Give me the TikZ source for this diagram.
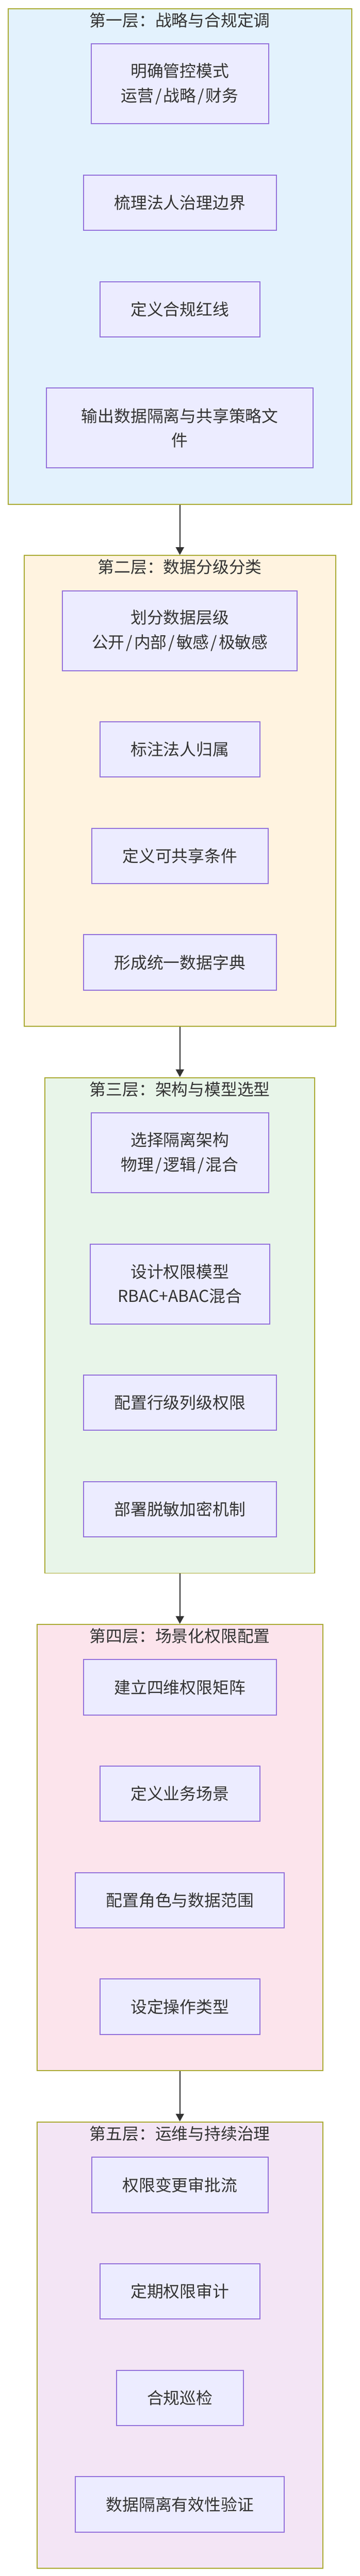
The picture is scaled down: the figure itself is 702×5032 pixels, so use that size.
\documentclass[tikz,border=0pt]{standalone}
\usepackage{fontspec}
\setmainfont{Noto Sans CJK SC}
\usetikzlibrary{arrows.meta}
\definecolor{nodefill}{HTML}{ECECFF}
\definecolor{nodeline}{HTML}{9370DB}
\definecolor{clusterline}{HTML}{AAAA33}
\definecolor{txt}{HTML}{333333}
\definecolor{fillA}{HTML}{E3F2FD}
\definecolor{fillB}{HTML}{FFF3E0}
\definecolor{fillC}{HTML}{E8F5E9}
\definecolor{fillD}{HTML}{FCE4EC}
\definecolor{fillE}{HTML}{F3E5F5}
\newcommand{\slsh}{\hspace{3pt}/\hspace{3pt}}
\tikzset{
  stepbox/.style={draw=nodeline, fill=nodefill, line width=2pt, rectangle, align=center, inner sep=0pt, text=txt, font=\fontsize{32}{48}\selectfont, minimum height=108pt},
  twoline/.style={minimum height=156pt},
  clusterbox/.style={draw=clusterline, line width=2pt, rectangle, inner sep=0pt, anchor=north},
  titletext/.style={text=txt, font=\fontsize{32}{48}\selectfont, inner sep=0pt},
  arr/.style={draw=txt, line width=2pt, -{Triangle[length=15pt,width=16pt]}},
}
\begin{document}
\begin{tikzpicture}[x=1pt,y=-1pt]
\useasboundingbox (0,0) rectangle (702,5032);
% clusters
\node[clusterbox, fill=fillA, minimum width=670pt, minimum height=968pt] (c1) at (351,16) {};
\node[clusterbox, fill=fillB, minimum width=608pt, minimum height=920pt] (c2) at (351,1084) {};
\node[clusterbox, fill=fillC, minimum width=526pt, minimum height=968pt] (c3) at (351,2104) {};
\node[clusterbox, fill=fillD, minimum width=558pt, minimum height=872pt] (c4) at (351,3172) {};
\node[clusterbox, fill=fillE, minimum width=558pt, minimum height=872pt] (c5) at (351,4144) {};
% titles
\node[titletext] (t1) at (351,40) {第一层：战略与合规定调};
\node[titletext] (t2) at (351,1108) {第二层：数据分级分类};
\node[titletext] (t3) at (351,2128) {第三层：架构与模型选型};
\node[titletext] (t4) at (351,3196) {第四层：场景化权限配置};
\node[titletext] (t5) at (351,4168) {第五层：运维与持续治理};
% layer 1
\node[stepbox, twoline, minimum width=346pt] (n1) at (351,164) {明确管控模式\\运营\slsh 战略\slsh 财务};
\node[stepbox, minimum width=376pt] (n2) at (351,396) {梳理法人治理边界};
\node[stepbox, minimum width=312pt] (n3) at (351,604) {定义合规红线};
\node[stepbox, twoline, minimum width=520pt] (n4) at (351,836) {输出数据隔离与共享策略文\\件};
% layer 2
\node[stepbox, twoline, minimum width=458pt] (n5) at (351,1232) {划分数据层级\\公开\slsh 内部\slsh 敏感\slsh 极敏感};
\node[stepbox, minimum width=312pt] (n6) at (351,1464) {标注法人归属};
\node[stepbox, minimum width=344pt] (n7) at (351,1672) {定义可共享条件};
\node[stepbox, minimum width=376pt] (n8) at (351,1880) {形成统一数据字典};
% layer 3
\node[stepbox, twoline, minimum width=346pt] (n9) at (351,2252) {选择隔离架构\\物理\slsh 逻辑\slsh 混合};
\node[stepbox, twoline, minimum width=350pt] (n10) at (351,2508) {设计权限模型\\RBAC+ABAC混合};
\node[stepbox, minimum width=376pt] (n11) at (351,2740) {配置行级列级权限};
\node[stepbox, minimum width=376pt] (n12) at (351,2948) {部署脱敏加密机制};
% layer 4
\node[stepbox, minimum width=376pt] (n13) at (351,3296) {建立四维权限矩阵};
\node[stepbox, minimum width=312pt] (n14) at (351,3504) {定义业务场景};
\node[stepbox, minimum width=408pt] (n15) at (351,3712) {配置角色与数据范围};
\node[stepbox, minimum width=312pt] (n16) at (351,3920) {设定操作类型};
% layer 5
\node[stepbox, minimum width=344pt] (n17) at (351,4268) {权限变更审批流};
\node[stepbox, minimum width=312pt] (n18) at (351,4476) {定期权限审计};
\node[stepbox, minimum width=248pt] (n19) at (351,4684) {合规巡检};
\node[stepbox, minimum width=408pt] (n20) at (351,4892) {数据隔离有效性验证};
% connectors
\draw[arr] (c1.south) -- (c2.north);
\draw[arr] (c2.south) -- (c3.north);
\draw[arr] (c3.south) -- (c4.north);
\draw[arr] (c4.south) -- (c5.north);
\end{tikzpicture}
\end{document}
